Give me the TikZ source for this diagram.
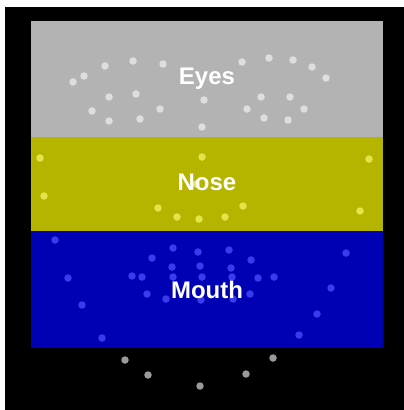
\documentclass[tikz,border=0pt]{standalone}
\usepackage{fontspec}
\setmainfont{Liberation Sans}
\usepackage{xcolor}
\usepackage{tikz}

\definecolor{eyeband}{HTML}{B3B3B3}
\definecolor{noseband}{HTML}{B5B500}
\definecolor{mouthband}{HTML}{0000B4}
\definecolor{eyedot}{HTML}{DEDEDE}
\definecolor{nosedot}{HTML}{E3E34A}
\definecolor{mouthdot}{HTML}{3B3BEE}
\definecolor{chindot}{HTML}{9A9A9A}

\begin{document}
\begin{tikzpicture}[
  x=1pt, y=-1pt,
  band/.style={draw=none},
  dot/.style={circle, inner sep=0pt, minimum size=7.5pt},
  lbl/.style={text=white, font=\fontsize{24}{28}\selectfont\bfseries}
]
\useasboundingbox (0,0) rectangle (404,410);
\fill[black] (5,7) rectangle (404,410);
% bands
\fill[band, eyeband] (31,21) rectangle (383,137);
\fill[band, noseband] (31,137) rectangle (383,231);
\fill[band, mouthband] (31,231) rectangle (383,348);
% dots
\foreach \x/\y in {73/82, 84/76, 105/66, 133/61, 163/64, 109/97, 136/94, 92/111,
  109/121, 140/119, 160/109, 204/100, 202/127, 242/62, 269/58, 293/60, 312/67,
  326/78, 261/97, 290/97, 247/109, 264/118, 288/120, 304/109}
  \node[dot, fill=eyedot] at (\x,\y) {};
\foreach \x/\y in {40/158, 202/157, 369/159, 44/196, 158/208, 177/217, 199/219,
  225/217, 243/206, 360/211, 196/184}
  \node[dot, fill=nosedot] at (\x,\y) {};
\foreach \x/\y in {55/240, 173/248, 198/252, 229/250, 152/258, 251/260, 346/253,
  172/267, 200/266, 231/268, 68/278, 132/276, 142/277, 173/277, 202/277, 232/277,
  258/278, 274/277, 331/288, 147/294, 166/299, 201/300, 233/299, 250/294, 82/305,
  317/314, 299/335, 102/338}
  \node[dot, fill=mouthdot] at (\x,\y) {};
\foreach \x/\y in {125/360, 148/375, 200/386, 246/374, 273/358}
  \node[dot, fill=chindot] at (\x,\y) {};
% labels
\node[lbl] (eyes) at (207,79) {Eyes};
\node[lbl] (nose) at (207,182) {Nose};
\node[lbl] (mouth) at (207,290) {Mouth};
\end{tikzpicture}
\end{document}
